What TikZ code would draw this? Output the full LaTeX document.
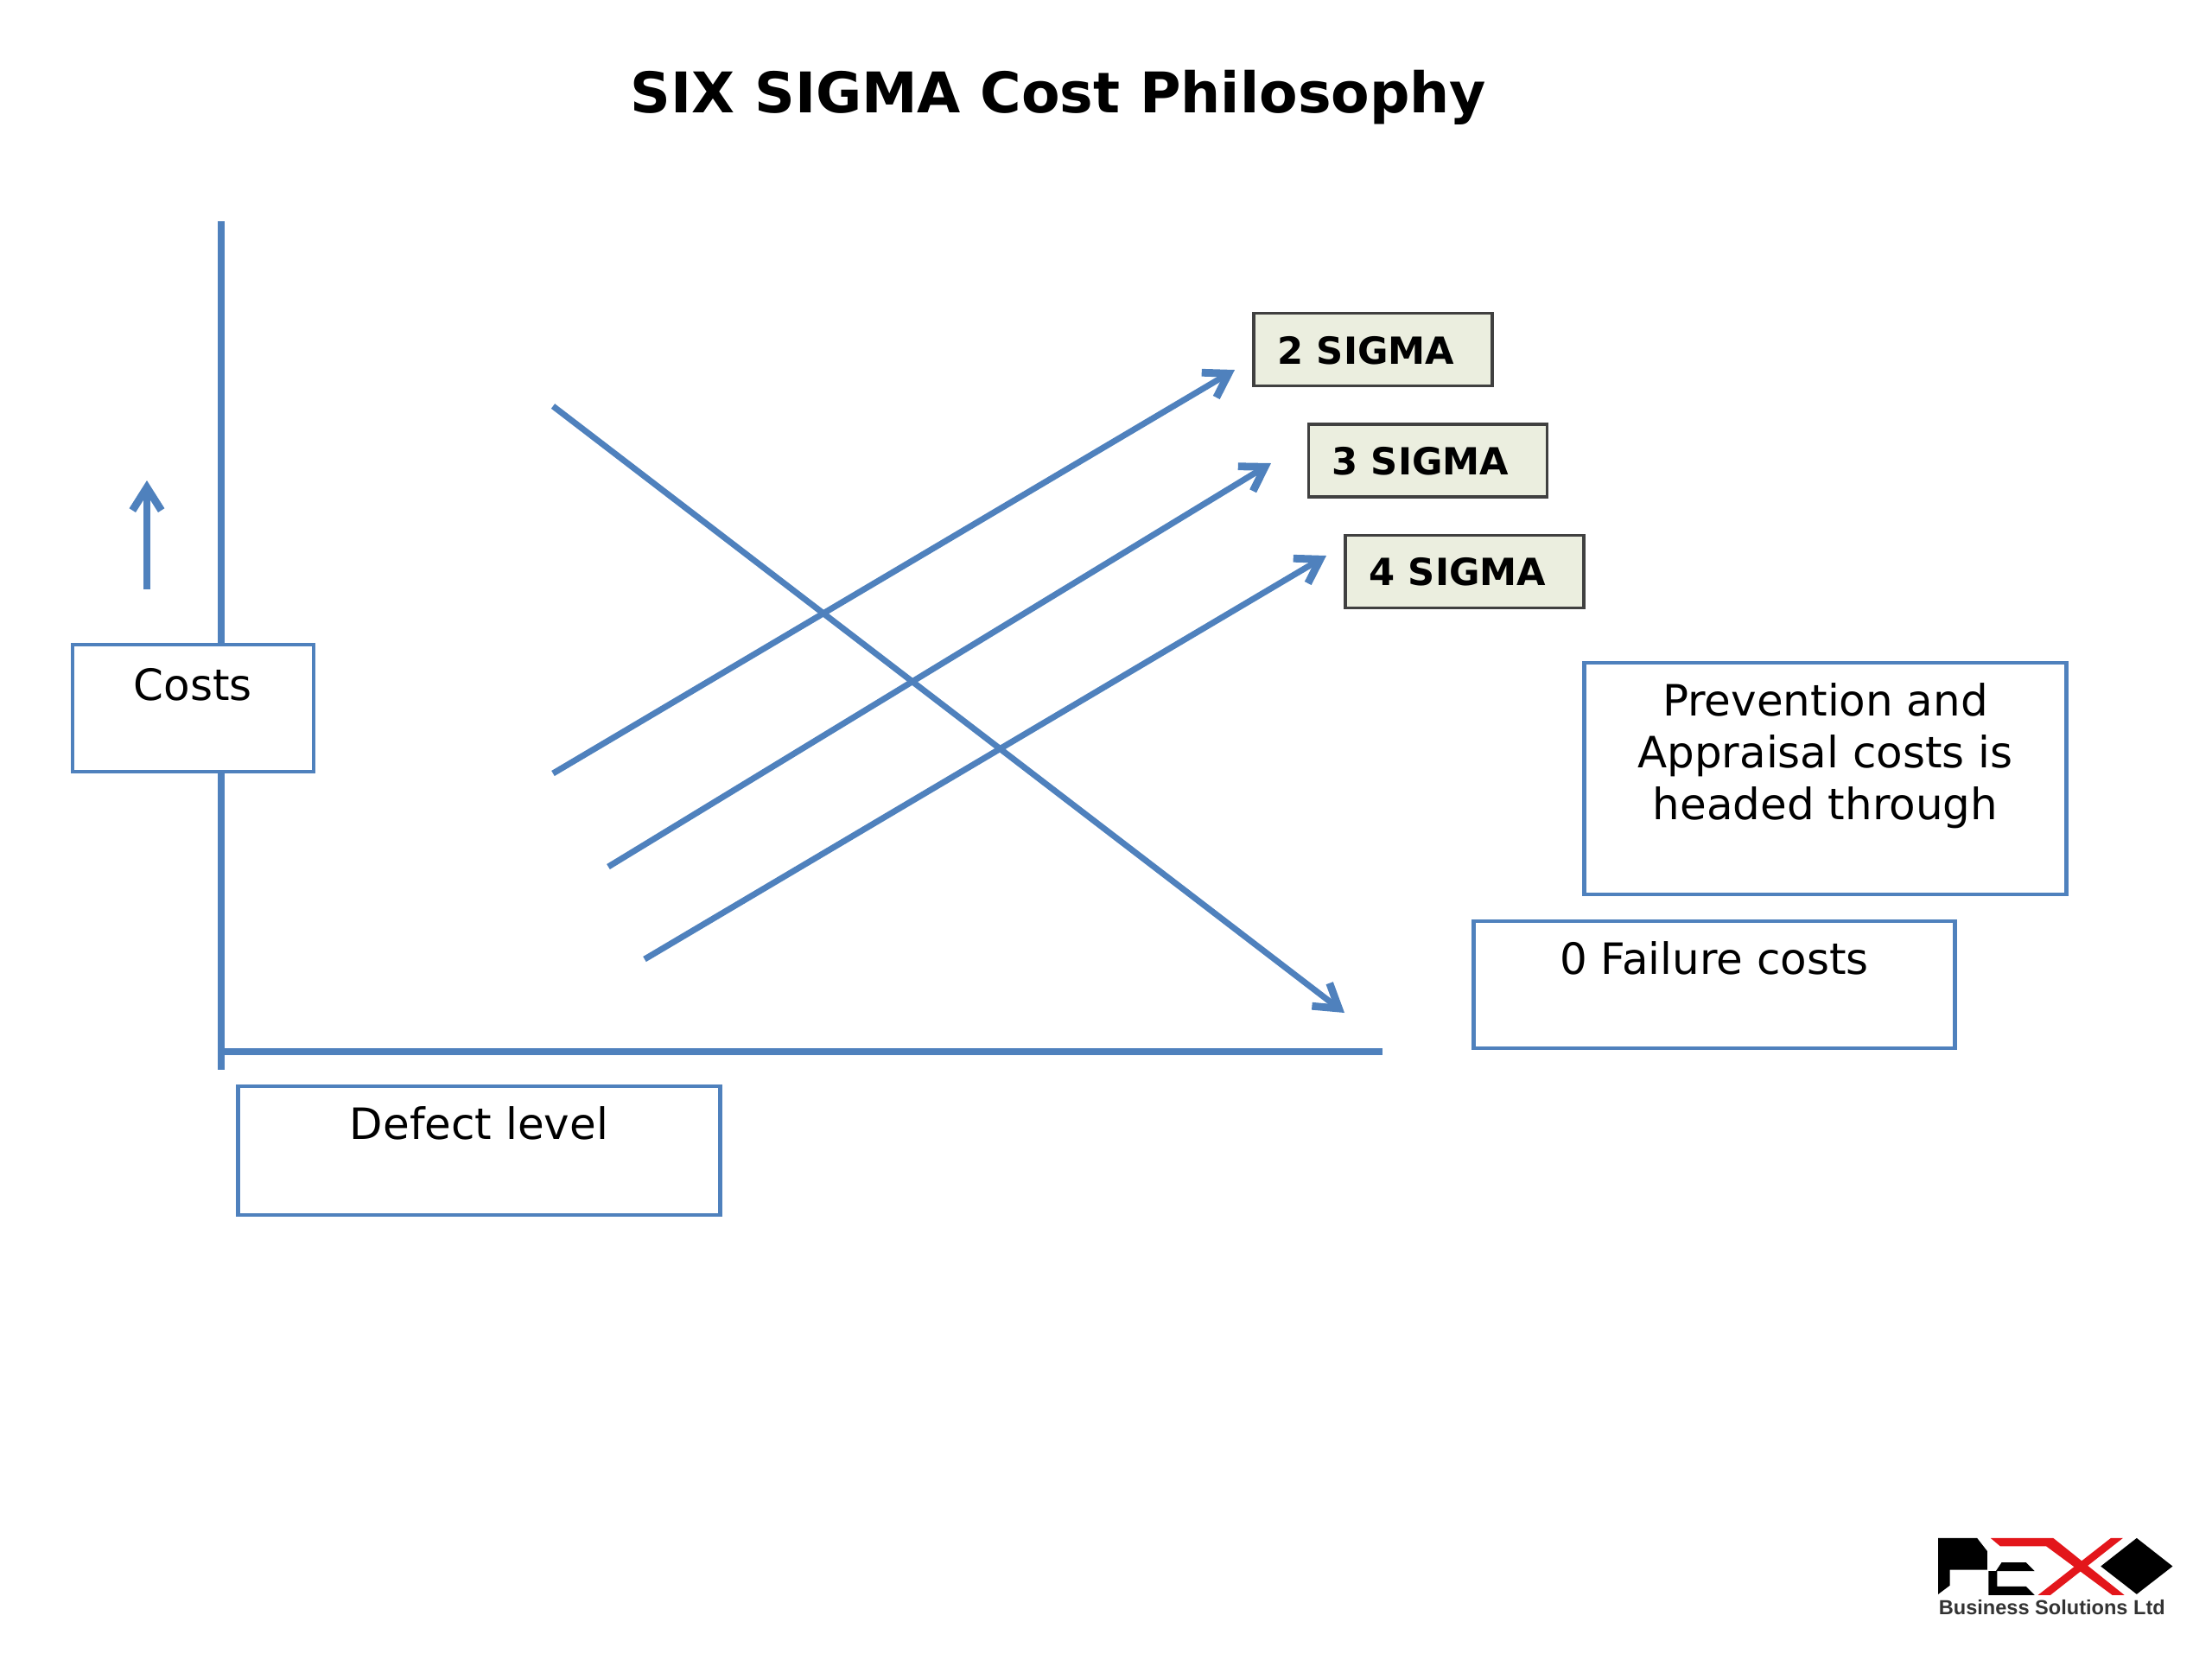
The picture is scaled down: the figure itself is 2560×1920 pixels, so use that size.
\documentclass[tikz,border=0pt]{standalone}
\usepackage{fontspec}
\setmainfont{DejaVu Sans}
\newfontfamily\logofont{Liberation Sans}
\usetikzlibrary{arrows.meta}
\definecolor{lineblue}{HTML}{4F81BD}
\definecolor{sigmafill}{HTML}{EBEEDF}
\definecolor{logored}{HTML}{E3161B}
\tikzset{
  costline/.style={draw=lineblue,line width=2pt},
  costarrow/.style={costline,-{Straight Barb[length=7.5pt,width=9.5pt,line width=2.5pt]}},
  notebox/.style={draw=lineblue,line width=1.35pt,fill=white,minimum width=#1,inner sep=0pt},
  sigmabox/.style={draw=black!75,line width=1pt,fill=sigmafill,minimum width=78.6pt,minimum height=24pt,inner sep=0pt},
  boxtext/.style={font=\fontsize{14.2}{17.1}\selectfont,align=center,inner sep=0pt},
  sigmatext/.style={font=\fontsize{12.3}{15}\selectfont\bfseries,inner sep=0pt},
}
\begin{document}
\begin{tikzpicture}[x=0.01cm,y=-0.01cm]

\useasboundingbox (0,0) rectangle (2560,1920);

\node[font=\fontsize{18.45}{22}\selectfont\bfseries,inner sep=0pt] (title) at (1225,113) {SIX SIGMA Cost Philosophy};

% axes
\coordinate (ytop) at (256,256);
\coordinate (ybot) at (256,1238);
\coordinate (xleft) at (256,1217);
\coordinate (xright) at (1600,1217);
\draw[costline] (ytop) -- (ybot);
\draw[costline,line width=2.2pt] (xleft) -- (xright);

\coordinate (upa) at (170,682);
\coordinate (upb) at (170,556);
\draw[costarrow] (upa) -- (upb);

% lines
\coordinate (fail1) at (640,470);
\coordinate (fail2) at (1556,1172);
\coordinate (twoa) at (640,895);
\coordinate (twob) at (1429,428);
\coordinate (threea) at (704,1003);
\coordinate (threeb) at (1471,536);
\coordinate (foura) at (746,1110);
\coordinate (fourb) at (1535,643);
\draw[costarrow] (fail1) -- (fail2);
\draw[costarrow] (twoa) -- (twob);
\draw[costarrow] (threea) -- (threeb);
\draw[costarrow] (foura) -- (fourb);

% boxes
\node[notebox=79.4pt,minimum height=41.8pt] (costs) at (223.5,819.5) {};
\node[notebox=158.5pt,minimum height=42.4pt] (defect) at (554.5,1331.5) {};
\node[notebox=158.5pt,minimum height=76.2pt] (prevent) at (2112.5,901) {};
\node[notebox=158.5pt,minimum height=41.8pt] (failure) at (1984,1139.5) {};

\node[boxtext] (coststxt) at (223.5,792) {Costs};
\node[boxtext] (defecttxt) at (554.5,1300) {Defect level};
\node[boxtext] (preventtxt) at (2112.5,875) {Prevention and\\Appraisal costs is\\headed through};
\node[boxtext] (failuretxt) at (1984,1109) {0 Failure costs};

\node[sigmabox] (two) at (1589,404.5) {};
\node[sigmabox] (three) at (1652.5,533) {};
\node[sigmabox] (four) at (1695,661.5) {};
\node[sigmatext,anchor=west] (twotxt) at (1478,406) {2 SIGMA};
\node[sigmatext,anchor=west] (threetxt) at (1541,534) {3 SIGMA};
\node[sigmatext,anchor=west] (fourtxt) at (1584,662) {4 SIGMA};

% logo
\begin{scope}[shift={(2160,1720)},x=0.003333cm,y=-0.003333cm]
\fill[black] (250,180) -- (385,180) -- (420,225) -- (420,290) -- (290,290) -- (290,345) -- (250,375) -- cycle;
\fill[black] (470,265) -- (555,265) -- (585,295) -- (450,295) -- cycle;
\fill[black] (425,295) -- (455,295) -- (455,348) -- (555,348) -- (585,378) -- (425,378) -- cycle;
\fill[logored] (432,180) -- (650,180) -- (897,378) -- (855,378) -- (625,208) -- (465,208) -- cycle;
\fill[logored] (850,180) -- (892,180) -- (640,378) -- (597,378) -- cycle;
\fill[black] (940,180) -- (1065,278) -- (940,375) -- (815,278) -- cycle;
\node[font=\logofont\bfseries\fontsize{6.7}{8}\selectfont,text=black!80,inner sep=0pt,anchor=west] (logotxt) at (250,422) {Business Solutions Ltd};
\end{scope}

\end{tikzpicture}
\end{document}
